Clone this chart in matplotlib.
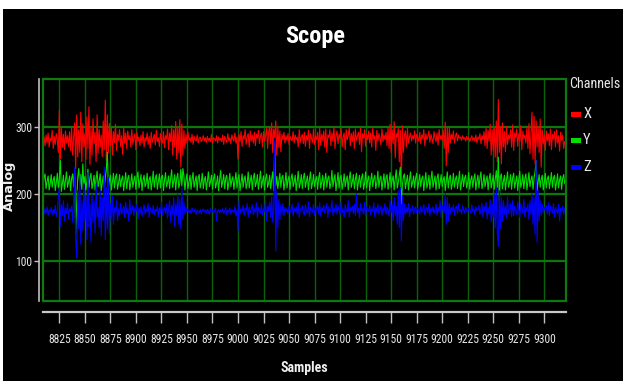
import matplotlib
matplotlib.use('Agg')
import matplotlib.pyplot as plt
from matplotlib.patches import Rectangle
from matplotlib import font_manager as fm
import numpy as np

# ---------------- data ----------------
start_sample = 8809

x_vals = [
    278,285,272,288,276,291,270,283,279,295,268,286,274,290,281,262,
    325,252,298,270,289,266,294,276,287,271,293,265,300,258,284,306,
    238,318,255,296,262,322,248,305,270,290,252,315,268,330,244,300,
    258,312,275,292,248,318,262,296,270,288,256,309,266,340,250,318,
    262,305,272,298,258,293,277,304,265,289,280,296,271,287,259,299,
    276,291,268,294,281,287,270,296,274,283,290,266,292,279,285,272,
    288,276,293,270,284,279,291,274,286,268,292,277,283,289,273,295,
    278,284,271,290,280,276,293,269,287,282,297,266,291,278,302,258,
    296,270,308,252,299,262,311,240,304,258,295,268,289,276,292,280,
    284,277,289,274,286,281,279,288,276,283,285,278,281,287,279,284,
    277,286,280,283,278,289,275,284,282,279,287,276,285,280,283,278,
    288,274,286,281,277,290,279,284,275,288,282,279,291,276,285,252,
    289,278,293,271,287,282,296,274,285,290,270,294,279,288,276,292,
    272,289,283,295,275,286,291,270,293,279,287,298,268,292,301,275,
    306,262,297,284,309,258,300,270,294,263,289,281,292,276,287,280,
    290,274,286,282,279,293,276,288,281,285,270,296,277,284,289,275,
    292,271,287,280,295,268,290,283,277,297,274,286,281,292,266,298,
    273,289,280,294,270,297,262,288,284,296,272,291,279,300,268,287,
    294,275,289,283,298,270,285,291,266,296,281,287,299,272,290,278,
    293,268,297,280,286,292,274,299,263,290,283,296,271,289,281,294,
    276,291,270,298,282,287,265,295,279,290,284,273,297,278,288,281,
    292,272,299,268,304,262,296,275,308,254,290,285,298,248,295,215,
    302,262,288,294,270,298,276,285,291,279,287,282,294,276,289,284,
    279,292,275,288,283,296,272,290,281,286,294,277,289,282,275,293,
    284,278,291,273,296,282,287,280,295,268,307,242,300,262,298,276,
    289,282,294,276,286,291,279,288,283,285,280,287,282,284,279,286,
    281,285,278,283,287,280,284,279,288,276,285,282,290,275,287,281,
    293,272,298,268,295,279,304,258,296,264,299,255,309,248,341,262,
    300,245,306,270,293,263,301,274,288,282,296,270,303,265,291,284,
    297,271,290,279,302,266,294,283,288,276,299,268,305,260,292,322,
    252,316,245,309,270,300,262,312,240,296,275,288,265,294,279,290,
    272,297,266,289,282,293,270,296,276,287,264,292,280,288,268,278,
]

y_vals = [
    212,224,230,208,219,227,206,215,229,210,221,226,205,217,231,209,
    222,250,204,216,228,207,220,233,210,218,227,205,223,230,211,236,
    140,185,224,238,212,229,207,245,215,226,206,219,237,210,224,231,
    208,217,228,206,222,234,211,219,230,205,216,227,209,224,236,262,
    210,221,228,206,218,231,209,225,230,207,216,229,211,222,227,205,
    219,232,208,223,228,206,217,230,210,220,227,207,224,233,209,218,
    229,205,221,228,211,216,231,208,222,226,206,219,234,210,223,229,
    207,218,230,209,225,228,205,220,232,211,217,227,208,223,236,210,
    219,229,206,224,231,209,216,237,212,238,227,206,221,230,208,218,
    228,207,222,232,210,219,227,205,224,229,209,217,231,208,221,226,
    206,220,233,211,218,228,207,223,230,209,216,227,205,222,235,210,
    219,229,208,224,228,206,217,231,211,221,226,207,219,232,209,223,
    229,205,218,230,210,222,227,208,216,233,209,220,228,206,224,231,
    211,217,229,207,221,234,209,219,227,206,223,230,210,216,228,208,
    222,233,205,275,212,226,208,219,231,210,224,228,206,217,232,209,
    221,227,207,223,230,211,218,228,205,220,234,209,216,229,208,224,
    231,210,219,227,206,222,233,208,217,229,211,221,226,207,224,232,
    209,218,228,206,220,231,210,223,227,208,216,235,211,222,229,205,
    219,232,209,224,228,207,217,230,211,221,227,206,223,233,210,218,
    229,208,222,231,206,219,228,210,224,230,207,216,233,209,221,227,
    205,220,231,211,223,228,208,217,234,210,222,227,206,219,230,209,
    224,229,207,218,232,210,221,227,206,223,236,209,217,228,240,185,
    212,226,230,208,219,228,206,222,233,210,217,227,209,224,231,207,
    218,229,211,223,227,205,220,232,209,216,228,207,222,234,210,219,
    227,206,224,230,208,217,229,211,221,226,205,219,233,209,223,228,
    207,216,231,210,222,227,208,220,234,206,218,229,211,224,228,209,
    217,232,207,221,227,210,223,230,206,219,228,209,224,233,208,216,
    229,211,220,227,206,223,231,209,218,228,207,222,235,210,255,190,
    226,230,208,219,228,206,221,233,210,217,229,207,224,231,209,218,
    227,205,222,234,210,216,229,208,223,230,206,219,232,211,221,227,
    207,224,233,250,205,218,229,210,222,228,206,217,231,209,223,227,
    208,219,232,210,224,228,206,217,230,209,221,227,207,223,229,216,
]

z_vals = [
    174,170,178,172,181,168,176,173,180,169,177,171,183,166,175,196,
    210,152,184,168,190,160,179,171,186,163,178,174,182,158,195,240,
    130,105,205,148,228,125,190,145,215,160,198,132,232,150,185,128,
    200,158,190,142,215,165,180,150,205,138,195,160,240,132,210,148,
    225,140,185,165,198,155,180,172,190,160,178,168,186,170,176,182,
    165,188,172,178,160,192,170,176,183,168,180,174,185,163,179,172,
    181,167,176,184,170,178,173,186,165,180,175,171,183,169,177,174,
    182,166,179,172,187,168,176,180,171,185,164,178,190,158,183,170,
    195,152,185,168,200,155,192,148,210,162,188,170,180,174,178,172,
    176,171,179,174,173,178,170,176,174,172,177,171,175,178,173,176,
    172,177,174,170,178,173,176,171,175,179,160,174,177,172,176,173,
    178,171,175,180,169,176,173,179,170,177,174,172,181,168,176,145,
    190,170,178,174,183,168,179,175,186,166,180,172,177,184,169,178,
    173,187,165,180,176,171,185,168,178,174,190,160,182,175,188,165,
    196,158,180,280,115,205,150,192,162,184,170,186,168,180,174,178,
    170,182,173,176,185,167,179,174,181,170,187,165,178,176,183,172,
    169,184,175,171,188,166,180,177,173,185,168,179,176,182,170,187,
    167,180,175,183,171,178,186,165,181,174,177,190,168,179,173,185,
    170,182,176,169,188,172,178,165,184,177,173,190,166,180,175,182,
    171,185,168,200,172,179,164,186,175,178,170,188,167,181,176,174,
    183,169,178,175,187,166,180,173,185,170,177,182,168,179,174,186,
    170,181,176,167,190,172,185,160,195,168,182,155,205,150,210,130,
    198,160,185,170,180,172,186,166,178,175,183,170,177,181,172,179,
    175,170,182,173,178,184,169,177,180,172,186,168,179,174,181,171,
    177,185,168,180,174,190,165,183,176,172,200,155,195,160,186,170,
    180,175,184,168,179,182,171,186,174,177,170,183,176,172,180,175,
    173,179,176,171,184,174,178,169,181,175,177,183,170,178,186,166,
    182,174,188,163,180,170,192,158,185,165,200,150,210,140,122,205,
    148,195,160,190,170,182,164,196,172,178,185,166,190,168,182,175,
    170,188,176,165,186,178,172,192,166,180,175,185,162,190,170,200,
    155,195,140,250,128,205,160,190,168,185,172,180,176,183,170,187,
    168,182,175,172,186,166,180,176,171,185,160,179,174,182,170,178,
]

channels = ['X', 'Y', 'Z']
channel_colors = ['#ff0000', '#00e000', '#0000ff']
x_ticks = list(range(8825, 9301, 25))
y_ticks = [100, 200, 300]
title_text = 'Scope'
x_label = 'Samples'
y_label = 'Analog'
legend_title = 'Channels'


# ---------------- font selection (condensed if available) ----------------
def _weight(f):
    w = f.weight
    if isinstance(w, str):
        w = fm.weight_dict.get(w, 400)
    return w


def _is_condensed(f):
    nm = f.name.lower()
    st = f.stretch
    if 'narrow' in nm or 'condensed' in nm:
        return True
    if isinstance(st, str):
        return 'condensed' in st
    if isinstance(st, (int, float)):
        return st < 500
    return False


def find_condensed(bold):
    pref = ['liberation sans narrow', 'roboto condensed', 'dejavu sans',
            'noto sans', 'open sans', 'arial narrow', 'liberation sans']
    best = None
    best_rank = 99
    for f in fm.fontManager.ttflist:
        if f.style != 'normal' or not _is_condensed(f):
            continue
        nm = f.name.lower()
        if 'cjk' in nm or 'mono' in nm or ('serif' in nm and 'sans' not in nm):
            continue
        w = _weight(f)
        if bold and w < 600:
            continue
        if not bold and not (350 <= w <= 500):
            continue
        rank = 50
        for i, p in enumerate(pref):
            if nm.startswith(p):
                rank = i
                break
        if rank < best_rank:
            best, best_rank = f, rank
    return best


f_reg = find_condensed(False)
f_bold = find_condensed(True)
if f_reg is not None:
    fp_reg = lambda size: fm.FontProperties(fname=f_reg.fname, size=size)
    tick_size = 8.4
    scale = 1.0
else:
    fp_reg = lambda size: fm.FontProperties(family='DejaVu Sans', size=size)
    tick_size = 6.3
    scale = 0.75
if f_bold is not None:
    fp_bold = lambda size: fm.FontProperties(fname=f_bold.fname, size=size)
    bscale = 1.0
else:
    fp_bold = lambda size: fm.FontProperties(family='DejaVu Sans', weight='bold', size=size)
    bscale = 0.78

# ---------------- figure ----------------
W, H = 623, 381
fig = plt.figure(figsize=(W / 100, H / 100), dpi=100, facecolor='black')

fig.patches.append(Rectangle((0, 1 - 9 / H), 1, 9 / H, transform=fig.transFigure,
                             facecolor='white', edgecolor='none', zorder=0))
fig.patches.append(Rectangle((0, 0), 3 / W, 1, transform=fig.transFigure,
                             facecolor='white', edgecolor='none', zorder=0))

ax = fig.add_axes([42.7 / W, 1 - 300.7 / H, 523 / W, 221.4 / H])
ax.set_facecolor('black')

samples = np.arange(start_sample, start_sample + len(x_vals))
for vals, col in zip([x_vals, y_vals, z_vals], channel_colors):
    ax.plot(samples, vals, color=col, lw=0.8, zorder=3)

ax.set_xlim(8808.7, 9321)
ax.set_ylim(41, 371)
ax.set_xticks(x_ticks)
ax.set_yticks(y_ticks)

ax.set_axisbelow(True)
ax.grid(axis='x', color='#0a620a', lw=1.0)
ax.grid(axis='y', color='#0c780c', lw=1.6)

frame = Rectangle((0, 0), 1, 1, transform=ax.transAxes, fill=False,
                  edgecolor='#0e7a0e', lw=1.6, clip_on=False, zorder=5)
ax.add_patch(frame)

for s in ['top', 'right']:
    ax.spines[s].set_visible(False)
ax.spines['left'].set_position(('outward', 2.5))
ax.spines['left'].set_color('#c0c0c0')
ax.spines['left'].set_linewidth(1.2)
ax.spines['bottom'].set_position(('outward', 8))
ax.spines['bottom'].set_color('#c8c8c8')
ax.spines['bottom'].set_linewidth(1.6)

ax.tick_params(axis='x', direction='out', length=8, width=1, color='#c0c0c0',
               pad=7, labelcolor='#e8e8e8')
ax.tick_params(axis='y', direction='out', length=3.5, width=1, color='#c0c0c0',
               pad=1.5, labelcolor='#e8e8e8')
for lab in ax.get_xticklabels() + ax.get_yticklabels():
    lab.set_fontproperties(fp_reg(tick_size))

# titles and labels
fig.text(315 / W, 1 - 37 / H, title_text, color='white',
         fontproperties=fp_bold(17.5 * bscale), ha='center', va='center')
fig.text(304.5 / W, 1 - 368 / H, x_label, color='#f0f0f0',
         fontproperties=fp_bold(10 * bscale), ha='center', va='center')
fig.text(9.5 / W, 1 - 186 / H, y_label, color='#f0f0f0', fontsize=9.3,
         fontweight='bold', ha='center', va='center', rotation=90,
         family='DejaVu Sans')

# legend
fig.text(569 / W, 1 - 84 / H, legend_title, color='#e8e8e8',
         fontproperties=fp_reg(10.2 * scale), ha='left', va='center')
for k, (name, col) in enumerate(zip(channels, channel_colors)):
    yc = 114 + k * 26.5
    fig.patches.append(Rectangle((571 / W, 1 - (yc + 2.5) / H), 10 / W, 5 / H,
                                 transform=fig.transFigure, facecolor=col,
                                 edgecolor='none'))
    fig.text(583 / W, 1 - yc / H, name, color='#e8e8e8',
             fontproperties=fp_reg(10.5 * scale), ha='left', va='center')

fig.savefig('out.png', dpi=100, facecolor='black')
